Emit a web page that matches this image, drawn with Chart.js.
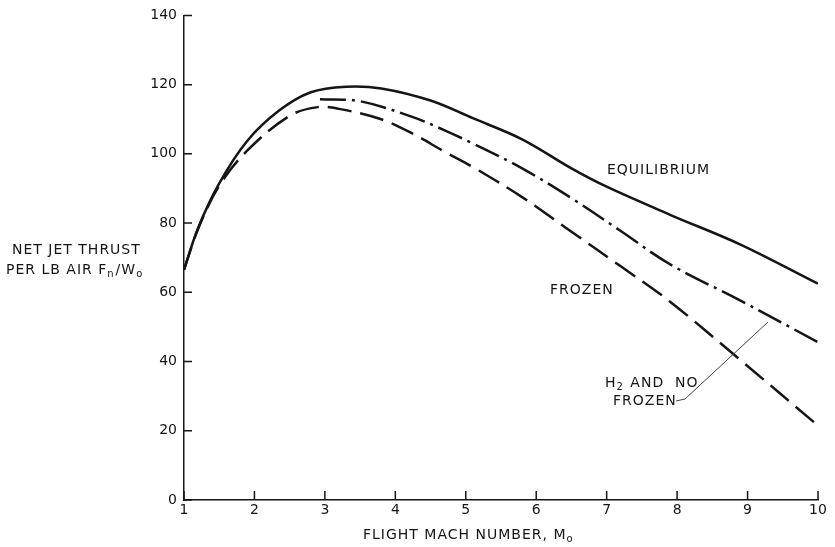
<!DOCTYPE html>
<html>
<head>
<meta charset="utf-8">
<script src="https://cdn.jsdelivr.net/npm/chart.js@4.4.0/dist/chart.umd.min.js"></script>
<style>
  html, body { margin: 0; padding: 0; background: #fff; }
  #wrap { width: 835px; height: 547px; }
</style>
</head>
<body>
<div id="wrap"><canvas id="thrust" width="835" height="547"></canvas></div>
<script>
// flight Mach number vs. net jet thrust per lb air
var eqMach   = [1, 1.2, 1.5, 1.9, 2.35, 2.8, 3.3, 3.8, 4.5, 5.1, 5.8, 6.5, 7.0, 7.9, 8.9, 10];
var eqThrust = [66.5, 78.6, 91.5, 103.8, 112.5, 117.8, 119.4, 118.9, 115.4, 110.3, 104.2, 95.8, 90.5, 82.4, 73.8, 62.5];

var frMach   = [1, 1.2, 1.5, 1.9, 2.5, 2.9, 3.2, 3.8, 4.25, 4.7, 5.1, 5.8, 6.5, 7.2, 7.9, 8.9, 10];
var frThrust = [66.5, 78.3, 90.8, 101, 111, 113.5, 113, 110, 105.8, 100.6, 96.2, 87.5, 77.5, 67.5, 57.3, 40.4, 21.5];

var h2Mach   = [2.93, 3.5, 4.25, 4.7, 5.1, 5.8, 6.5, 7.2, 7.9, 8.9, 10];
var h2Thrust = [115.8, 115.2, 110.6, 106.8, 103, 95.8, 87.2, 77.7, 68.1, 57.6, 45.6];

var machTicks = [1, 2, 3, 4, 5, 6, 7, 8, 9, 10];
var thrustTicks = [0, 20, 40, 60, 80, 100, 120, 140];

var INK = '#151515';
var FONT = '"DejaVu Sans", sans-serif';

function pts(xs, ys) {
  return xs.map(function(x, i) { return {x: x, y: ys[i]}; });
}

// text with an optional lowered, smaller tail (subscripts)
function drawParts(ctx, parts, x, y) {
  parts.forEach(function(p) {
    ctx.font = (p.sub ? '10px ' : '14px ') + FONT;
    ctx.fillText(p.t, x, y + (p.sub ? 4 : 0));
    x += ctx.measureText(p.t).width + (p.sub ? 1 : 0);
  });
  return x;
}

var decorations = {
  id: 'decorations',
  afterDraw: function(chart) {
    var ctx = chart.ctx;
    var xs = chart.scales.x, ys = chart.scales.y;
    var area = chart.chartArea;
    ctx.save();
    ctx.strokeStyle = INK;
    ctx.fillStyle = INK;
    ctx.lineWidth = 1.5;

    // inward tick marks
    ctx.beginPath();
    thrustTicks.forEach(function(v) {
      var py = ys.getPixelForValue(v);
      ctx.moveTo(area.left, py);
      ctx.lineTo(area.left + 8, py);
    });
    machTicks.forEach(function(v) {
      var px = xs.getPixelForValue(v);
      ctx.moveTo(px, area.bottom);
      ctx.lineTo(px, area.bottom - 9);
    });
    ctx.stroke();

    ctx.textBaseline = 'middle';
    ctx.textAlign = 'left';
    ctx.letterSpacing = '1px';

    // y axis title, horizontal on the left
    drawParts(ctx, [{t: 'NET JET THRUST'}], 12, 250);
    drawParts(ctx, [{t: 'PER LB AIR F'}, {t: 'n', sub: true}, {t: '/W'}, {t: 'o', sub: true}], 6, 270);

    // x axis title
    drawParts(ctx, [{t: 'FLIGHT MACH NUMBER, M'}, {t: 'o', sub: true}], 363, 535);

    // curve labels
    drawParts(ctx, [{t: 'EQUILIBRIUM'}], 607, 170);
    drawParts(ctx, [{t: 'FROZEN'}], 550, 290);
    drawParts(ctx, [{t: 'H'}, {t: '2', sub: true}, {t: ' AND  NO'}], 605, 383);
    drawParts(ctx, [{t: 'FROZEN'}], 613, 401);

    // leader line to the dash-dot curve
    ctx.lineWidth = 1;
    ctx.strokeStyle = '#444';
    ctx.beginPath();
    ctx.moveTo(676, 401);
    ctx.lineTo(685, 399);
    ctx.lineTo(768, 322);
    ctx.stroke();
    ctx.restore();
  }
};

var ctx = document.getElementById('thrust');

new Chart(ctx, {
  type: 'line',
  data: {
    datasets: [{
      label: 'EQUILIBRIUM',
      data: pts(eqMach, eqThrust),
      borderColor: INK,
      borderWidth: 2.5
    }, {
      label: 'FROZEN',
      data: pts(frMach, frThrust),
      borderColor: INK,
      borderWidth: 2.5,
      borderDash: [24, 9]
    }, {
      label: 'H2 AND NO FROZEN',
      data: pts(h2Mach, h2Thrust),
      borderColor: INK,
      borderWidth: 2.5,
      borderDash: [26, 6, 3, 6]
    }]
  },
  options: {
    responsive: false,
    animation: false,
    layout: { padding: { top: 12, right: 17, left: 0, bottom: 0 } },
    elements: {
      point: { radius: 0 },
      line: { tension: 0.35, fill: false, borderCapStyle: 'butt' }
    },
    plugins: {
      legend: { display: false },
      tooltip: { enabled: false }
    },
    scales: {
      x: {
        type: 'linear',
        min: 1,
        max: 10,
        afterFit: function(scale) { scale.height = 47; },
        afterBuildTicks: function(scale) {
          scale.ticks = machTicks.map(function(v) { return {value: v}; });
        },
        ticks: { color: INK, font: { family: FONT, size: 14 }, padding: 2, maxRotation: 0 },
        grid: { drawOnChartArea: false, drawTicks: false },
        border: { display: true, color: INK, width: 1.5 }
      },
      y: {
        min: 0,
        max: 140,
        afterFit: function(scale) { scale.width = 184; },
        afterBuildTicks: function(scale) {
          scale.ticks = thrustTicks.map(function(v) { return {value: v}; });
        },
        ticks: { color: INK, font: { family: FONT, size: 14 }, padding: 7 },
        grid: { drawOnChartArea: false, drawTicks: false },
        border: { display: true, color: INK, width: 1.5 }
      }
    }
  },
  plugins: [decorations]
});
</script>
</body>
</html>
